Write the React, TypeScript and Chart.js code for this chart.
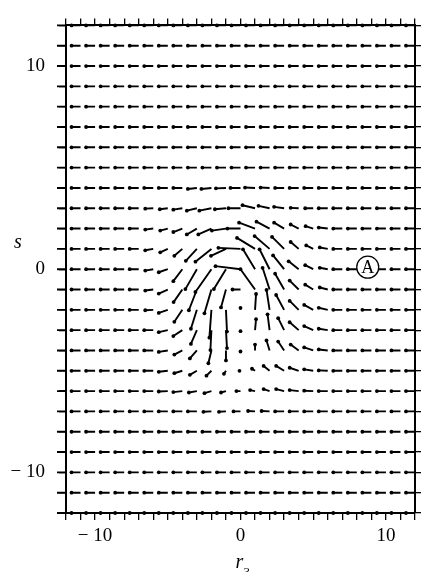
import React, { useEffect, useRef } from 'react';
import { Chart, registerables } from 'chart.js';

Chart.register(...registerables);

// Grid of arrow tails (r3, s)
const GRID_X = [-12, -11, -10, -9, -8, -7, -6, -5, -4, -3, -2, -1, 0, 1, 2, 3, 4, 5, 6, 7, 8, 9, 10, 11, 12];
const GRID_Y = [12, 11, 10, 9, 8, 7, 6, 5, 4, 3, 2, 1, 0, -1, -2, -3, -4, -5, -6, -7, -8, -9, -10, -11, -12];

// Uniform far-field vector
const FAR_U = -0.62;
const FAR_V = 0;

// Disturbed core region
const CORE_X = [-6, -5, -4, -3, -2, -1, 0, 1, 2, 3, 4, 5, 6];
const CORE_Y = [4, 3, 2, 1, 0, -1, -2, -3, -4, -5, -6, -7];
const CORE_U = [
  [-0.62, -0.62, -0.62, -0.62, -0.69, -0.69, -0.69, -0.69, -0.62, -0.62, -0.62, -0.62, -0.62],
  [-0.55, -0.55, -0.62, -0.69, -0.83, -0.76, -0.83, -0.86, -0.76, -0.69, -0.55, -0.55, -0.62],
  [-0.55, -0.52, -0.62, -0.69, -0.9, -0.97, -0.9, -1.1, -0.9, -0.69, -0.55, -0.52, -0.62],
  [-0.55, -0.52, -0.55, -0.76, -1.1, -1.03, -1.52, -1.24, -1.03, -0.83, -0.55, -0.48, -0.55],
  [-0.55, -0.62, -0.62, -0.79, -1.1, -0.83, -1.72, -0.83, -0.69, -0.76, -0.69, -0.55, -0.55],
  [-0.55, -0.62, -0.6, -0.55, -0.48, -0.34, -0.55, -1.0, -0.48, -0.62, -0.62, -0.55, -0.55],
  [-0.55, -0.62, -0.55, -0.41, -0.14, 0.07, 0, 0.07, -0.21, -0.55, -0.62, -0.62, -0.62],
  [-0.62, -0.62, -0.62, -0.41, -0.07, 0.07, 0, 0.07, -0.14, -0.41, -0.62, -0.62, -0.62],
  [-0.62, -0.62, -0.55, -0.48, -0.21, 0, 0, 0, -0.21, -0.41, -0.55, -0.62, -0.62],
  [-0.62, -0.62, -0.55, -0.48, -0.34, -0.14, -0.07, -0.21, -0.41, -0.55, -0.62, -0.62, -0.62],
  [-0.62, -0.62, -0.62, -0.55, -0.48, -0.34, -0.28, -0.34, -0.41, -0.55, -0.62, -0.62, -0.62],
  [-0.62, -0.62, -0.62, -0.62, -0.55, -0.48, -0.48, -0.48, -0.55, -0.62, -0.62, -0.62, -0.62],
];
const CORE_V = [
  [0, 0, 0, -0.05, -0.05, -0.02, 0, 0.02, 0.02, 0, 0, 0, 0],
  [-0.02, -0.05, -0.07, -0.12, -0.12, -0.05, 0, 0.15, 0.12, 0.07, 0.02, 0, 0],
  [-0.05, -0.1, -0.17, -0.29, -0.29, -0.1, 0, 0.29, 0.34, 0.29, 0.2, 0.12, 0.05],
  [-0.07, -0.17, -0.34, -0.59, -0.63, -0.34, 0.05, 0.54, 0.63, 0.59, 0.34, 0.17, 0.07],
  [-0.07, -0.15, -0.59, -0.98, -1.12, -0.98, 0.15, 0.98, 0.98, 0.68, 0.39, 0.2, 0.07],
  [-0.05, -0.2, -0.62, -1.02, -1.17, -0.88, 0, 1.0, 1.07, 0.78, 0.44, 0.24, 0.1],
  [-0.02, -0.15, -0.59, -0.93, -1.37, -1.07, 0.1, 0.78, 0.98, 0.73, 0.44, 0.24, 0.1],
  [0, -0.1, -0.29, -0.68, -0.98, -0.88, -0.05, 0.54, 0.78, 0.59, 0.39, 0.2, 0.07],
  [0, -0.07, -0.2, -0.39, -0.63, -0.49, -0.05, 0.29, 0.49, 0.44, 0.29, 0.15, 0.05],
  [0, -0.05, -0.12, -0.2, -0.24, -0.15, 0, 0.1, 0.24, 0.24, 0.15, 0.07, 0.02],
  [0, -0.02, -0.05, -0.07, -0.1, -0.07, 0, 0.05, 0.1, 0.1, 0.05, 0.02, 0],
  [0, 0, 0, 0, -0.02, -0.02, 0, 0.02, 0.02, 0, 0, 0, 0],
];

const AXIS_MIN = -12;
const AXIS_MAX = 12;
const LABELED_TICKS = [-10, 0, 10];
const LABEL_TEXTS = ['\u2212 10', '0', '10'];
const X_TITLE = 'r';
const X_TITLE_SUB = '3';
const Y_TITLE = 's';
const MARK_LABEL = 'A';
const MARK_POS = [8.75, 0.1];

const SERIF = '"Liberation Serif", "Times New Roman", serif';

function buildPoints() {
  const pts: { x: number; y: number | null }[] = [];
  for (const y of GRID_Y) {
    for (const x of GRID_X) {
      let u = FAR_U;
      let v = FAR_V;
      const ci = CORE_X.indexOf(x);
      const cj = CORE_Y.indexOf(y);
      if (ci >= 0 && cj >= 0) {
        u = CORE_U[cj][ci];
        v = CORE_V[cj][ci];
      }
      pts.push({ x, y }, { x: x + u, y: y + v }, { x, y: null });
    }
  }
  return pts;
}

const tickLabel = (val: number | string) => {
  const k = LABELED_TICKS.indexOf(Number(val));
  return k >= 0 ? LABEL_TEXTS[k] : '';
};

const annotations = {
  id: 'annotations',
  afterDatasetsDraw(chart: any) {
    const { ctx } = chart;
    const xs = chart.scales.x;
    const ys = chart.scales.y;
    ctx.save();
    // circled A
    const cx = xs.getPixelForValue(MARK_POS[0]);
    const cy = ys.getPixelForValue(MARK_POS[1]);
    ctx.beginPath();
    ctx.arc(cx, cy, 11, 0, Math.PI * 2);
    ctx.fillStyle = '#fff';
    ctx.fill();
    ctx.lineWidth = 1.3;
    ctx.strokeStyle = '#000';
    ctx.stroke();
    ctx.fillStyle = '#000';
    ctx.font = `18px ${SERIF}`;
    ctx.textAlign = 'center';
    ctx.textBaseline = 'middle';
    ctx.fillText(MARK_LABEL, cx, cy + 1);
    // axis titles
    ctx.font = `italic 20px ${SERIF}`;
    ctx.textAlign = 'left';
    ctx.textBaseline = 'alphabetic';
    const tx = xs.getPixelForValue(0) - 5;
    ctx.fillText(X_TITLE, tx, 568);
    ctx.font = `13px ${SERIF}`;
    ctx.fillText(X_TITLE_SUB, tx + 8, 576);
    ctx.font = `italic 20px ${SERIF}`;
    ctx.fillText(Y_TITLE, 14, ys.getPixelForValue(1.05));
    ctx.restore();
  },
};

export default function App() {
  const ref = useRef<HTMLCanvasElement | null>(null);
  useEffect(() => {
    document.body.style.margin = '0';
    const canvas = ref.current;
    if (!canvas) return;
    const gridCommon = {
      drawOnChartArea: false,
      drawTicks: true,
      tickLength: 7,
      color: '#000',
      lineWidth: 1.3,
    };
    const border = { display: true, color: '#000', width: 2 };
    const chart = new Chart(canvas, {
      type: 'scatter',
      data: {
        datasets: [
          {
            data: buildPoints() as any,
            showLine: true,
            spanGaps: false,
            borderColor: '#000',
            backgroundColor: '#000',
            borderWidth: 1.9,
            borderCapStyle: 'butt',
            pointRadius: (c: any) => (c.dataIndex % 3 === 1 ? 1.9 : 0),
            pointBorderWidth: 0,
            pointHoverRadius: 0,
            clip: false as any,
          },
        ],
      },
      options: {
        animation: false,
        responsive: false,
        devicePixelRatio: 1,
        layout: { padding: 0 },
        plugins: { legend: { display: false }, tooltip: { enabled: false } },
        events: [],
        scales: {
          x: {
            type: 'linear',
            position: 'bottom',
            min: AXIS_MIN,
            max: AXIS_MAX,
            afterFit: (s: any) => { s.height = 59; },
            grid: gridCommon,
            border,
            ticks: {
              stepSize: 1,
              autoSkip: false,
              maxRotation: 0,
              padding: 5,
              color: '#000',
              font: { family: SERIF, size: 19 },
              callback: (v: any) => tickLabel(v),
            },
          },
          x2: {
            type: 'linear',
            axis: 'x',
            position: 'top',
            min: AXIS_MIN,
            max: AXIS_MAX,
            afterFit: (s: any) => { s.height = 21; },
            grid: gridCommon,
            border,
            ticks: { stepSize: 1, autoSkip: false, display: false },
          },
          y: {
            type: 'linear',
            position: 'left',
            min: AXIS_MIN,
            max: AXIS_MAX,
            afterFit: (s: any) => { s.width = 66; },
            grid: gridCommon,
            border,
            ticks: {
              stepSize: 1,
              autoSkip: false,
              padding: 14,
              color: '#000',
              font: { family: SERIF, size: 19 },
              callback: (v: any) => tickLabel(v),
            },
          },
          y2: {
            type: 'linear',
            axis: 'y',
            position: 'right',
            min: AXIS_MIN,
            max: AXIS_MAX,
            afterFit: (s: any) => { s.width = 6; },
            grid: gridCommon,
            border,
            ticks: { stepSize: 1, autoSkip: false, display: false },
          },
        },
      } as any,
      plugins: [annotations],
    });
    return () => chart.destroy();
  }, []);
  return <canvas ref={ref} width={421} height={572} style={{ display: 'block' }} />;
}
